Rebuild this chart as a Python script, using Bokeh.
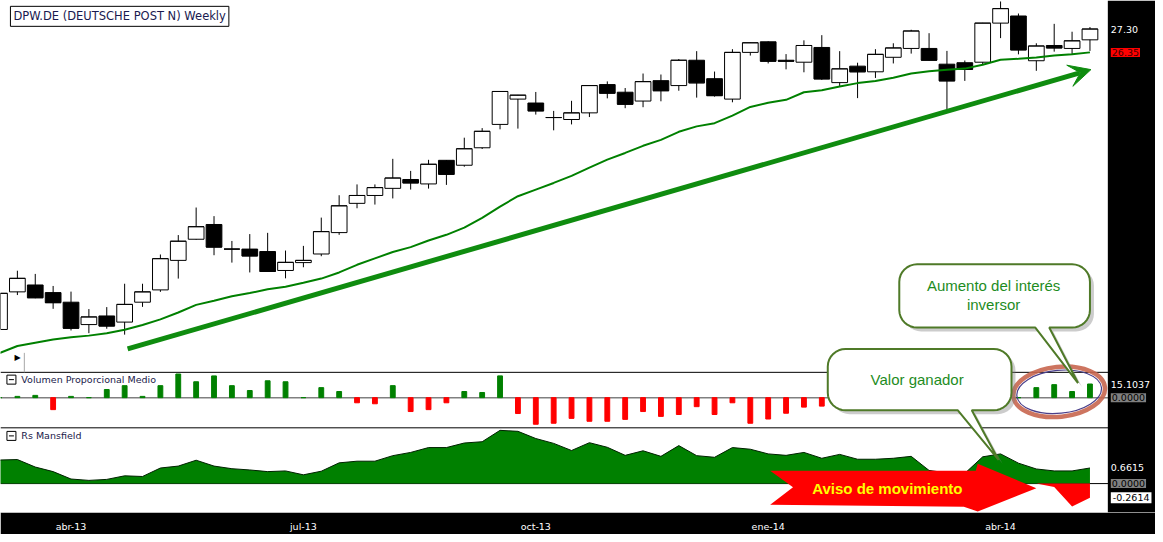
import numpy as np
from bokeh.plotting import figure
from bokeh.models import (Range1d, FixedTicker, Span, Label, Arrow, VeeHead,
                          ColumnDataSource, BoxAnnotation)
from bokeh.embed import file_html
from bokeh.resources import INLINE

# ---------------- data (weekly, DPW.DE); first week only partly visible ----------------
open_ = [15.08,
         16.61, 16.89, 16.58, 16.19, 15.28, 15.63, 15.38, 16.19, 16.69, 17.89,
         18.75, 19.35, 18.35, 18.35, 18.25, 17.48, 17.80, 18.15, 19.02, 20.21,
         20.53, 20.82, 21.18, 21.00, 21.96, 21.76, 22.47, 23.42, 24.45, 24.29,
         23.70, 23.62, 23.89, 25.04, 24.73, 24.37, 25.20, 25.00, 26.03, 25.28,
         24.45, 26.35, 26.78, 26.03, 25.95, 26.55, 25.12, 25.79, 25.56, 26.15,
         26.51, 26.51, 25.87, 25.93, 25.95, 27.54, 27.83, 26.01, 26.63, 26.51,
         26.86]
high = [16.70,
        17.47, 17.34, 16.85, 16.62, 15.91, 15.99, 16.94, 16.94, 18.13, 18.92,
        20.04, 19.69, 18.68, 18.96, 19.01, 18.29, 18.48, 19.63, 20.54, 20.98,
        20.98, 22.02, 21.53, 21.98, 21.97, 22.88, 23.27, 24.77, 24.62, 24.74,
        23.97, 24.38, 25.01, 25.17, 24.90, 25.49, 25.45, 26.08, 26.40, 25.57,
        26.48, 26.75, 26.80, 26.28, 26.84, 27.05, 26.40, 25.93, 26.48, 26.72,
        27.27, 27.13, 26.41, 26.02, 27.55, 28.42, 27.93, 26.72, 27.51, 27.19,
        27.38]
low = [14.95,
       16.48, 16.35, 15.92, 15.04, 14.93, 15.11, 14.87, 16.00, 16.61, 17.15,
       18.73, 18.10, 17.80, 17.40, 17.43, 17.16, 17.61, 18.06, 18.93, 20.01,
       20.16, 20.41, 20.77, 20.81, 20.96, 21.70, 22.42, 23.22, 23.25, 23.82,
       23.18, 23.42, 23.72, 24.48, 24.08, 24.12, 24.36, 24.79, 24.51, 24.55,
       24.32, 26.22, 25.90, 25.66, 25.54, 25.23, 24.96, 24.49, 25.31, 25.90,
       26.30, 26.02, 24.04, 25.19, 25.86, 26.93, 26.27, 25.60, 26.38, 26.28,
       26.41]
close = [16.55,
         17.16, 16.37, 16.17, 15.13, 15.59, 15.22, 16.10, 16.61, 17.96, 18.67,
         19.26, 18.43, 18.35, 18.07, 17.44, 17.81, 17.89, 19.06, 20.11, 20.53,
         20.85, 21.24, 21.04, 21.80, 21.39, 22.43, 23.14, 24.76, 24.61, 23.97,
         23.70, 23.89, 25.00, 24.69, 24.24, 25.16, 24.79, 26.03, 25.11, 24.59,
         26.35, 26.74, 25.99, 25.99, 26.63, 25.27, 25.68, 25.56, 26.27, 26.53,
         27.22, 26.03, 25.19, 25.66, 27.54, 28.13, 26.45, 26.61, 26.53, 26.82,
         27.30]
moving_avg = [14.12,
              14.41, 14.54, 14.67, 14.76, 14.83, 14.93, 15.07, 15.26, 15.49, 15.77,
              16.08, 16.25, 16.43, 16.56, 16.72, 16.82, 16.98, 17.15, 17.40, 17.71,
              17.97, 18.23, 18.43, 18.70, 18.93, 19.22, 19.62, 20.08, 20.50, 20.77,
              21.04, 21.33, 21.66, 21.99, 22.26, 22.55, 22.79, 23.12, 23.34, 23.47,
              23.78, 24.13, 24.30, 24.42, 24.73, 24.81, 24.96, 25.10, 25.19, 25.32,
              25.49, 25.58, 25.64, 25.69, 25.85, 26.05, 26.09, 26.14, 26.22, 26.27,
              26.35]
vol_prop = [0.0,
            1.4, 2.5, -13.3, 1.4, 0.0, 9.0, 13.3, 1.4, 13.3, 26.2,
            17.6, 24.1, 13.3, 7.9, 18.7, 17.6, 0.0, 11.1, 6.8, -5.7,
            -6.8, 13.3, -15.4, -13.3, -5.7, 6.8, 5.7, 24.1, -17.6, -29.5,
            -28.4, -23.0, -26.2, -26.2, -24.1, -15.4, -20.8, -18.7, -10.0, -18.7,
            -5.7, -28.4, -23.7, -17.3, -10.5, -9.4, -7.0, -4.0, 3.0, 6.0,
            -5.0, -8.0, -10.0, -6.0, 4.0, 8.0, 0.0, 11.1, 14.4, 6.8,
            15.1037]
rs_mansfield = [1.000,
                1.020, 0.702, 0.508, 0.194, 0.136, 0.178, 0.330, 0.301, 0.661, 0.743,
                0.991, 0.743, 0.632, 0.578, 0.508, 0.537, 0.372, 0.525, 0.880, 0.950,
                0.950, 1.185, 1.322, 1.528, 1.528, 1.722, 1.776, 2.259, 2.218, 1.912,
                1.706, 1.404, 1.735, 1.540, 1.198, 1.392, 1.156, 1.611, 1.185, 1.115,
                1.528, 1.458, 1.260, 1.198, 1.322, 1.074, 1.239, 1.033, 1.033, 1.074,
                1.156, 0.558, 0.454, 0.434, 1.136, 1.260, 0.867, 0.620, 0.537, 0.537,
                0.6615]
rs_signal = [0.0] * 59 + [-0.063, -0.424, -0.2614]
tick_idx = [3, 16, 29, 42, 55]
tick_labels = ["abr-13", "jul-13", "oct-13", "ene-14", "abr-14"]

N = len(close)
idx = [i - 1 for i in range(N)]

# ---------------- layout helpers (reference pixels -> data) ----------------
BAR_PX, BAR0_PX = 18.0, 17.0
FL, FR, FT, FB = 0, 1163, 0, 526
P_TOP27, P_PER_PX = (27.30, 29.3), 1 / 25.26


def X(px):
    return (px - BAR0_PX) / BAR_PX


def Y(py):
    return P_TOP27[0] - (py - P_TOP27[1]) * P_PER_PX


def band(zero_py, per_px):
    return Range1d(-(FB - zero_py) * per_px, (zero_py - FT) * per_px)


p = figure(width=1155, height=534, output_backend="svg", toolbar_location=None,
           x_range=Range1d(X(FL), X(FR)), y_range=Range1d(Y(FB), Y(FT)),
           y_axis_location=None, min_border_left=0, min_border_top=0,
           min_border_right=0, min_border_bottom=16,
           border_fill_color="black", background_fill_color="white",
           outline_line_color=None)
p.extra_y_ranges = {"vol": band(408, 1.079), "rs": band(496.3, 0.0413),
                    "rs2": band(496.3, 0.018)}
p.grid.visible = False

ax = p.xaxis[0]
ax.ticker = FixedTicker(ticks=tick_idx)
ax.major_label_overrides = {t: s for t, s in zip(tick_idx, tick_labels)}
ax.axis_line_color = None
ax.major_tick_line_color = None
ax.minor_tick_line_color = None
ax.major_label_text_color = "white"
ax.major_label_text_font = "DejaVu Sans"
ax.major_label_text_font_size = "9.5px"
ax.major_label_standoff = 2

# panel separators and zero lines
for py in (382, 439):
    p.add_layout(Span(location=Y(py), dimension="width", line_color="black",
                      line_width=1, level="underlay"))
p.add_layout(Span(location=0, dimension="width", y_range_name="vol",
                  line_color="#808080", line_width=1.5, level="underlay"))
p.add_layout(Span(location=0, dimension="width", y_range_name="rs",
                  line_color="black", line_width=1, level="underlay"))

# ---------------- candles ----------------
src = ColumnDataSource(dict(
    x=idx, o=open_, h=high, l=low, c=close,
    top=[max(a, b) for a, b in zip(open_, close)],
    bot=[min(a, b) for a, b in zip(open_, close)],
    fill=["white" if c >= o else "black" for o, c in zip(open_, close)],
    xl=[i - 0.44 for i in idx], xr=[i + 0.44 for i in idx]))
p.segment(x0="x", y0="l", x1="x", y1="h", source=src, line_color="black", line_width=1)
p.vbar(x="x", width=0.88, top="top", bottom="bot", source=src,
       fill_color="fill", line_color="black", line_width=1)
p.segment(x0="xl", y0="c", x1="xr", y1="c", source=src, line_color="black", line_width=1)

p.line(idx, moving_avg, line_color="#008000", line_width=2)

p.add_layout(Arrow(x_start=X(128), y_start=Y(358), x_end=X(1098), y_end=Y(71),
                   line_color="#0f8c0f", line_width=5,
                   end=VeeHead(size=22, fill_color="#0f8c0f", line_color="#0f8c0f")))

# ---------------- volume proporcional medio ----------------
p.vbar(x=idx, width=0.27, bottom=0, top=vol_prop,
       color=["#008000" if v >= 0 else "#ff0000" for v in vol_prop],
       y_range_name="vol")

# ---------------- RS Mansfield ----------------
p.varea(x=idx, y1=0, y2=rs_mansfield, fill_color="#008000", y_range_name="rs")
p.line(idx, rs_mansfield, line_color="#002200", line_width=1, y_range_name="rs")
p.varea(x=idx, y1=0, y2=rs_signal, fill_color="#ff0000", y_range_name="rs2")

# ---------------- decorations ----------------
p.ellipse(x=[X(1066)], y=[Y(402)], width=92, height=50, width_units="screen",
          height_units="screen", angle=0.1, fill_color=None,
          line_color="#c8664f", line_width=4.5, line_alpha=0.9)
p.ellipse(x=[X(1066)], y=[Y(402)], width=85, height=43, width_units="screen",
          height_units="screen", angle=0.1, fill_color=None,
          line_color="#4a3f8a", line_width=1.2)


def callout(x0, y0, x1, y1, r, bx0, bx1, tip, dx=0, dy=0):
    pts = []

    def arc(cx, cy, a0, a1):
        for a in np.linspace(a0, a1, 9):
            pts.append((cx + r * np.cos(a), cy + r * np.sin(a)))
    arc(x1 - r, y0 + r, -np.pi / 2, 0)
    arc(x1 - r, y1 - r, 0, np.pi / 2)
    pts.extend([(bx1, y1), tip, (bx0, y1)])
    arc(x0 + r, y1 - r, np.pi / 2, np.pi)
    arc(x0 + r, y0 + r, np.pi, 1.5 * np.pi)
    return [X(a + dx) for a, b in pts], [Y(b + dy) for a, b in pts]


boxes = [(833, 358, 1018, 421, 18, 964, 978, (1005, 472)),
         (905, 271, 1097, 336, 18, 1042, 1056, (1085, 393))]
for b in boxes:
    sx, sy = callout(*b, dx=4, dy=4)
    p.patch(sx, sy, fill_color="#7f7f7f", fill_alpha=0.4, line_color=None)
for b in boxes:
    bx, by = callout(*b)
    p.patch(bx, by, fill_color="white", line_color="#4f7a28", line_width=2)

arrow_px = [(775, 483), (982, 483), (984, 476), (1043, 501), (984, 525),
            (970, 520), (775, 518), (798, 500)]
p.patch([X(a) for a, b in arrow_px], [Y(b) for a, b in arrow_px],
        fill_color="#ff0000", line_color=None)

green_txt = "#1e8c1e"
for txt, cx, cy in [("Aumento del interés", 1000, 293), ("inversor", 1000, 312),
                    ("Valor ganador", 923, 389)]:
    p.add_layout(Label(x=X(cx), y=Y(cy), text=txt, text_align="center",
                       text_baseline="middle", text_font="Liberation Sans",
                       text_font_size="15px", text_color=green_txt))
p.add_layout(Label(x=X(893), y=Y(501), text="Aviso de movimiento", text_align="center",
                   text_baseline="middle", text_font="Liberation Sans",
                   text_font_style="bold", text_font_size="15px", text_color="#ffff00"))

# panel titles
for txt, cy in [("Volumen Proporcional Medio", 389.5), ("Rs Mansfield", 447.3)]:
    p.rect(x=[X(11)], y=[Y(cy)], width=9, height=9, width_units="screen",
           height_units="screen", fill_color="white", line_color="black", line_width=1)
    p.segment(x0=[X(8.5)], y0=[Y(cy)], x1=[X(13.5)], y1=[Y(cy)], line_color="black")
    p.add_layout(Label(x=X(21), y=Y(cy), text=txt, text_baseline="middle",
                       text_font="DejaVu Sans", text_font_size="9.5px",
                       text_color="#20204a"))

p.add_layout(Label(x=X(10), y=Y(6), text="DPW.DE (DEUTSCHE POST N) Weekly",
                   text_baseline="top", text_align="left", text_font="DejaVu Sans",
                   text_font_size="11.5px", text_color="#1a1a50",
                   border_line_color="black", border_line_width=1,
                   background_fill_color="white", padding=3))
p.add_layout(Label(x=X(14), y=Y(367), text="▶", text_baseline="middle",
                   text_font="DejaVu Sans", text_font_size="8px", text_color="black"))
p.segment(x0=[X(24)], y0=[Y(362)], x1=[X(24)], y1=[Y(382)], line_color="#a8a8a8")

# right-hand black strip with value tags
p.add_layout(BoxAnnotation(left=X(1115), fill_color="black", fill_alpha=1.0,
                           line_color=None))
TX = X(1118)
tag_font = dict(text_font="DejaVu Sans", text_font_size="9.5px", text_baseline="middle",
                text_align="left")
p.add_layout(Label(x=TX, y=close[-1], text=f"{close[-1]:.2f}", text_color="white", **tag_font))
p.add_layout(Label(x=TX, y=moving_avg[-1], text=f"{moving_avg[-1]:.2f}", text_color="#3a0000",
                   background_fill_color="#ff0000", padding=1, **tag_font))
p.add_layout(Label(x=TX, y=vol_prop[-1], y_range_name="vol", text=f"{vol_prop[-1]:.4f}",
                   text_color="white", **tag_font))
p.add_layout(Label(x=TX, y=0, y_range_name="vol", text="0.0000", text_color="black",
                   background_fill_color="#808080", padding=1, **tag_font))
p.add_layout(Label(x=TX, y=rs_mansfield[-1], y_range_name="rs",
                   text=f"{rs_mansfield[-1]:.4f}", text_color="white", **tag_font))
p.add_layout(Label(x=TX, y=0, y_range_name="rs", text="0.0000", text_color="black",
                   background_fill_color="#808080", padding=1, **tag_font))
p.add_layout(Label(x=TX, y=rs_signal[-1], y_range_name="rs2", text=f"{rs_signal[-1]:.4f}",
                   text_color="black", background_fill_color="white", padding=2, **tag_font))

open("out.html", "w").write(file_html(p, INLINE))
